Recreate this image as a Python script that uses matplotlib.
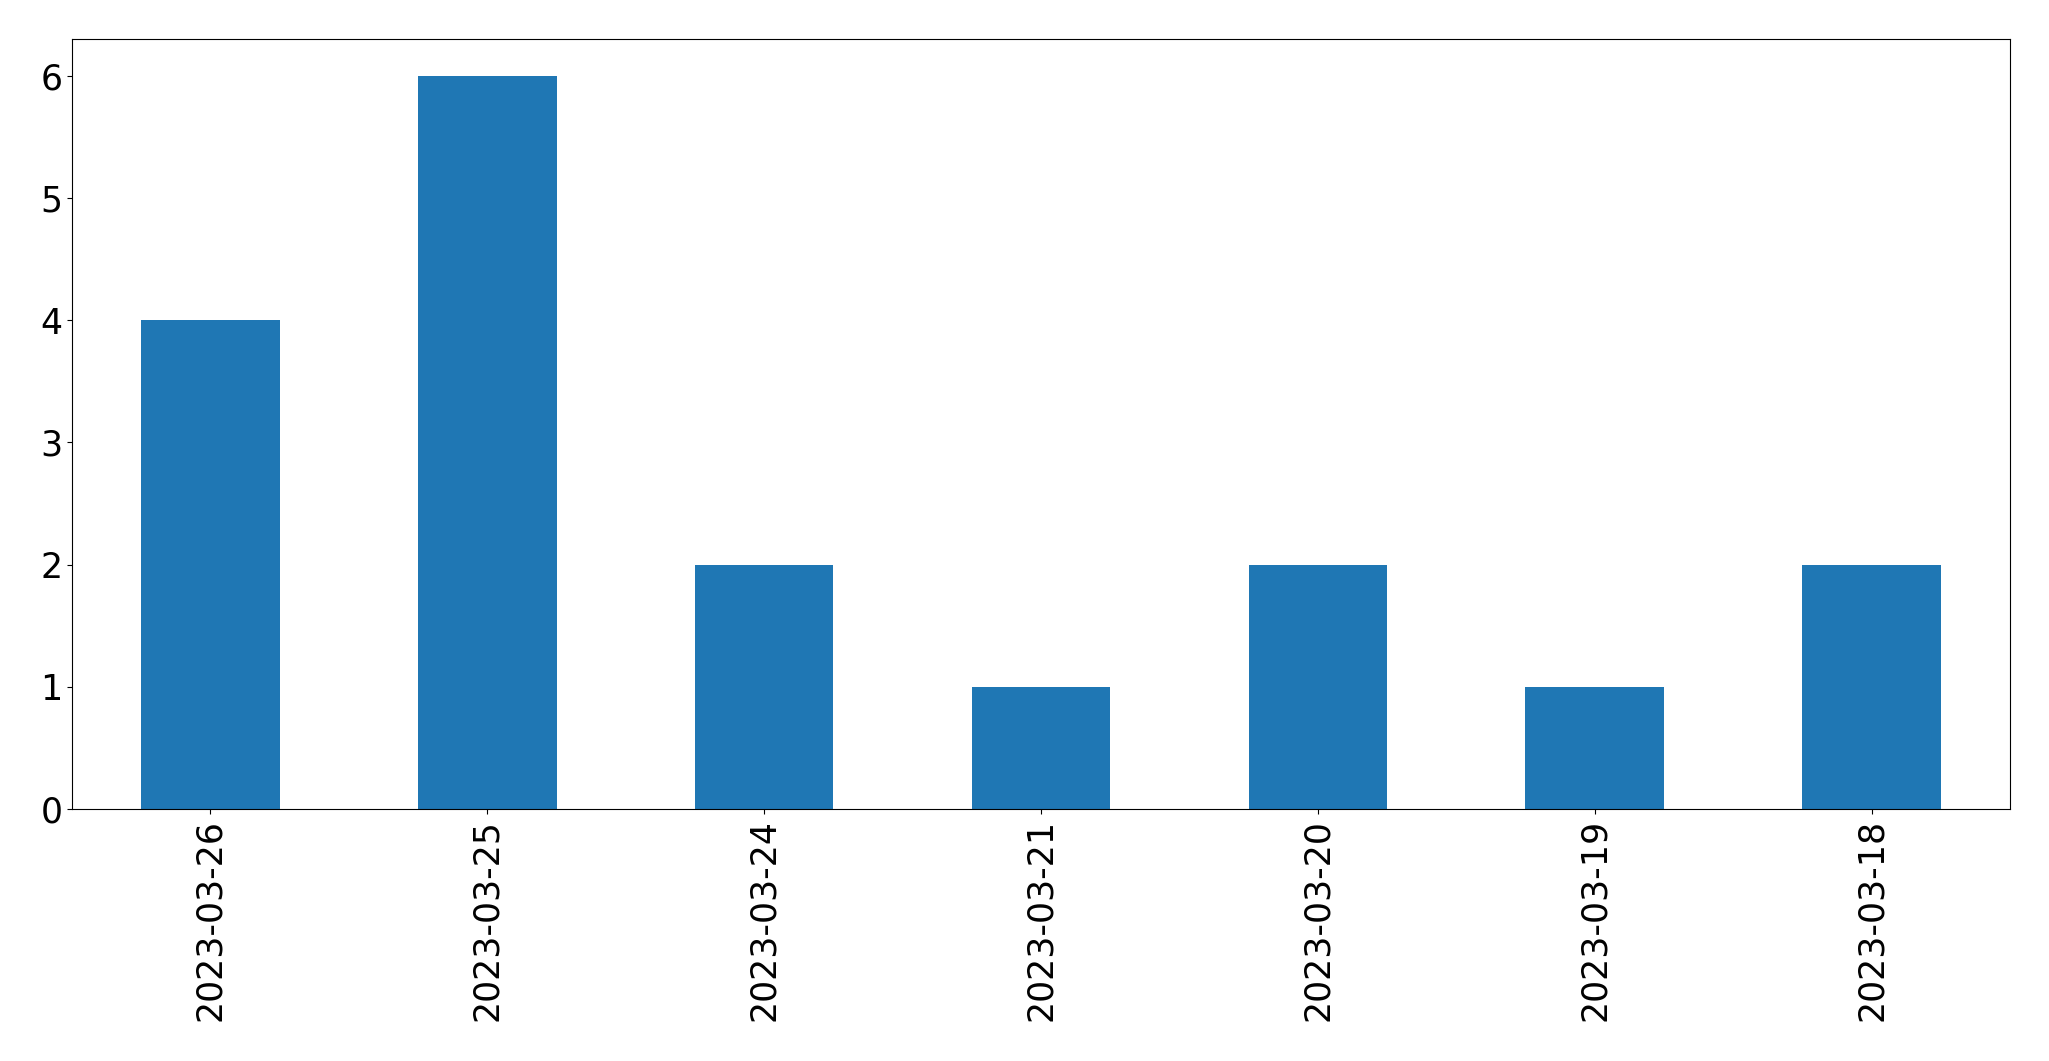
import matplotlib
matplotlib.use("Agg")
import matplotlib.pyplot as plt

dates = ["2023-03-26", "2023-03-25", "2023-03-24", "2023-03-21",
         "2023-03-20", "2023-03-19", "2023-03-18"]
counts = [4, 6, 2, 1, 2, 1, 2]

fig = plt.figure(figsize=(20.49, 10.61), dpi=100)
ax = fig.add_axes([72 / 2049, 1 - 809 / 1061, (2010 - 72) / 2049, (809 - 39) / 1061])
x = list(range(len(dates)))
ax.bar(x, counts, width=0.5, color="#1f77b4")
ax.set_xlim(-0.5, len(dates) - 0.5)
ax.set_ylim(0, 6.3)
ax.set_xticks(x)
ax.set_xticklabels(dates, rotation=90)
ax.tick_params(labelsize=25)
fig.savefig("out.png", dpi=100)
